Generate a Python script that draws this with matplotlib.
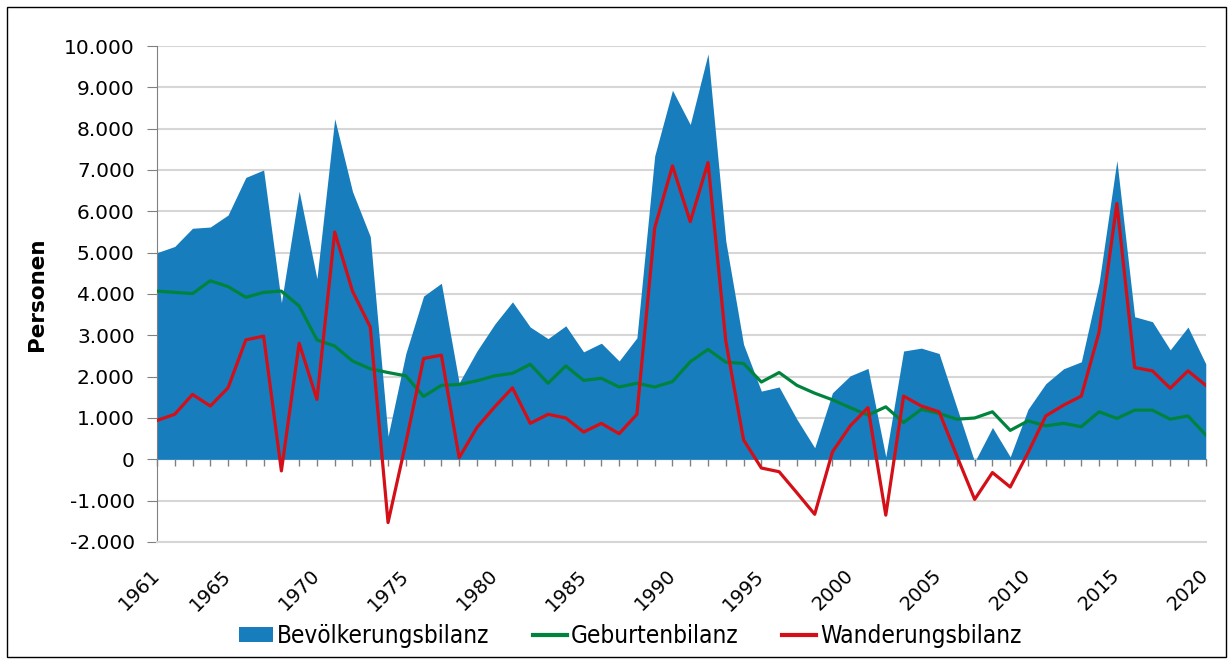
import matplotlib
matplotlib.use("Agg")
import matplotlib.pyplot as plt
from matplotlib import font_manager as fm
from matplotlib.patches import Patch, Rectangle
from matplotlib.lines import Line2D
from matplotlib.ticker import FuncFormatter, MultipleLocator

years = list(range(1961, 2021))

# Bevölkerungsbilanz (area)
bevoelkerung = [5000, 5150, 5590, 5620, 5910, 6820, 7000, 3790, 6490, 4370,
                8240, 6480, 5390, 560, 2560, 3950, 4260, 1850, 2620, 3270,
                3810, 3200, 2920, 3230, 2600, 2810, 2380, 2940, 7340, 8930,
                8100, 9810, 5280, 2780, 1650, 1750, 970, 280, 1610, 2020,
                2200, 60, 2620, 2690, 2560, 1250, -60, 770, 60, 1210,
                1830, 2190, 2360, 4270, 7230, 3450, 3330, 2650, 3200, 2310]

# Geburtenbilanz
geburten = [4070, 4040, 4010, 4320, 4180, 3920, 4040, 4070, 3710, 2890,
            2740, 2380, 2190, 2100, 2020, 1520, 1790, 1810, 1900, 2020,
            2080, 2300, 1840, 2260, 1910, 1960, 1750, 1840, 1750, 1880,
            2360, 2660, 2350, 2320, 1870, 2100, 1790, 1600, 1440, 1250,
            1070, 1270, 890, 1210, 1110, 970, 1000, 1150, 700, 930,
            810, 870, 790, 1150, 990, 1190, 1190, 970, 1050, 590]

# Wanderungsbilanz
wanderung = [940, 1090, 1570, 1290, 1730, 2890, 2980, -280, 2810, 1450,
             5500, 4070, 3200, -1530, 400, 2440, 2520, 40, 770, 1270,
             1730, 870, 1090, 1000, 660, 870, 620, 1090, 5600, 7100,
             5750, 7180, 2860, 470, -210, -300, -810, -1330, 180, 810,
             1250, -1350, 1530, 1290, 1150, 80, -970, -320, -670, 160,
             1050, 1310, 1530, 3080, 6190, 2220, 2140, 1720, 2140, 1790]

label_years = [1961, 1965, 1970, 1975, 1980, 1985, 1990, 1995, 2000, 2005, 2010, 2015, 2020]
series_names = ["Bevölkerungsbilanz", "Geburtenbilanz", "Wanderungsbilanz"]

BLUE = "#177dbd"
GREEN = "#00843d"
RED = "#d40f17"


def narrow_font(size):
    """Pick a condensed font for the legend if one is installed"""
    for f in fm.fontManager.ttflist:
        if f.name == "DejaVu Sans" and "Condensed" in f.fname and "Bold" not in f.fname \
                and "Oblique" not in f.fname:
            return fm.FontProperties(fname=f.fname, size=size)
    return fm.FontProperties(family="DejaVu Sans", size=size * 0.85)


fig = plt.figure(figsize=(12.31, 6.60), dpi=100)
ax = fig.add_axes([0.1275, 0.1788, 0.852, 0.7515])

ax.fill_between(years, bevoelkerung, 0, color=BLUE, linewidth=0, zorder=2)
ax.plot(years, geburten, color=GREEN, linewidth=2.3, zorder=3)
ax.plot(years, wanderung, color=RED, linewidth=2.3, zorder=4)

ax.set_xlim(1961, 2020)
ax.set_ylim(-2000, 10000)

# y axis
ax.yaxis.set_major_locator(MultipleLocator(1000))
ax.yaxis.set_major_formatter(FuncFormatter(lambda v, p: f"{v:,.0f}".replace(",", ".")))
ax.grid(axis="y", color="#d6d6d6", linewidth=1.5, zorder=0)
ax.set_axisbelow(True)
ax.tick_params(axis="y", length=7, color="#808080", labelsize=14.5, pad=9)
ax.set_ylabel("Personen", fontsize=15.5, fontweight="bold", labelpad=12)

# x labels at the bottom, no ticks there
ax.set_xticks(label_years)
ax.set_xticklabels([str(y) for y in label_years], rotation=45, ha="right", va="center",
                   rotation_mode="anchor", fontsize=14)
ax.tick_params(axis="x", length=0, pad=22)

for side in ["top", "right"]:
    ax.spines[side].set_visible(False)
ax.spines["left"].set_color("#808080")
ax.spines["bottom"].set_color("#d6d6d6")
ax.spines["bottom"].set_linewidth(1.5)

# year ticks on the zero line
zero_axis = ax.secondary_xaxis(2000 / 12000)
zero_axis.set_xticks(years)
zero_axis.set_xticklabels([])
zero_axis.tick_params(length=5, color="#808080", width=1)
zero_axis.spines["bottom"].set_color("#808080")

handles = [Patch(facecolor=BLUE, edgecolor="none"),
           Line2D([], [], color=GREEN, linewidth=3),
           Line2D([], [], color=RED, linewidth=3)]
fig.legend(handles, series_names,
           loc="center", bbox_to_anchor=(0.512, 0.036), ncol=3, frameon=False,
           prop=narrow_font(17.5), handlelength=1.4, handleheight=0.55,
           handletextpad=0.15, columnspacing=1.8)

fig.add_artist(Rectangle((0.006, 0.004), 0.99, 0.985, transform=fig.transFigure,
                         fill=False, edgecolor="black", linewidth=1))

fig.savefig("out.png", dpi=100)
